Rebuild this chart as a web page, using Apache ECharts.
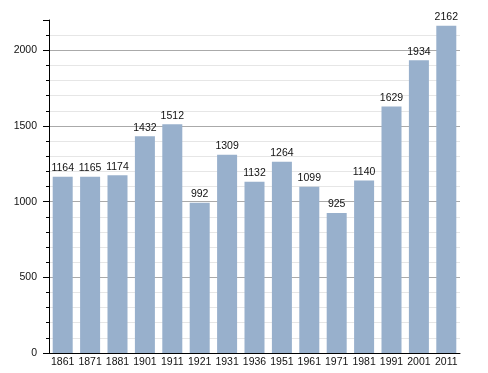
<!DOCTYPE html>
<html><head><meta charset="utf-8">
<script src="https://cdn.jsdelivr.net/npm/echarts@6/dist/echarts.min.js"></script>
<style>html,body{margin:0;padding:0;background:#fff}#c{width:488px;height:373px}</style>
</head><body><div id="c"></div>
<script>
const categories = ['1861','1871','1881','1901','1911','1921','1931','1936','1951','1961','1971','1981','1991','2001','2011'];
const population = [1164,1165,1174,1432,1512,992,1309,1132,1264,1099,925,1140,1629,1934,2162];
const yTicks = [0,500,1000,1500,2000];

const chart = echarts.init(document.getElementById('c'), null, {renderer:'canvas'});
chart.setOption({
  animation:false,
  backgroundColor:'#ffffff',
  textStyle:{fontFamily:'Liberation Sans, Arial, sans-serif'},
  grid:{left:49,right:28,top:20,bottom:20,containLabel:false},
  xAxis:{
    type:'category',
    data:categories,
    axisLine:{lineStyle:{color:'#000',width:1}},
    axisTick:{show:false},
    axisLabel:{color:'#111',fontSize:10.5,margin:4,interval:0,fontFamily:'Liberation Sans, Arial, sans-serif'}
  },
  yAxis:{
    type:'value',
    min:0,max:2200,interval:500,
    axisLine:{show:true,lineStyle:{color:'#000',width:1}},
    axisTick:{show:true,length:6,lineStyle:{color:'#000'}},
    minorTick:{show:true,splitNumber:5,length:3,lineStyle:{color:'#000'}},
    axisLabel:{color:'#111',fontSize:10.5,margin:12,fontFamily:'Liberation Sans, Arial, sans-serif',
      formatter:v=>yTicks.includes(v)?String(v):''},
    splitLine:{show:true,showMaxLine:false,lineStyle:{color:'#aaaaaa',width:1}},
    minorSplitLine:{show:true,lineStyle:{color:'#e6e6e6',width:1}}
  },
  series:[{
    type:'bar',
    data:population,
    barWidth:20,
    itemStyle:{color:'#98b0cc'},
    label:{show:true,position:'top',distance:3,color:'#111',fontSize:10.5,fontFamily:'Liberation Sans, Arial, sans-serif'}
  }]
});
</script></body></html>
